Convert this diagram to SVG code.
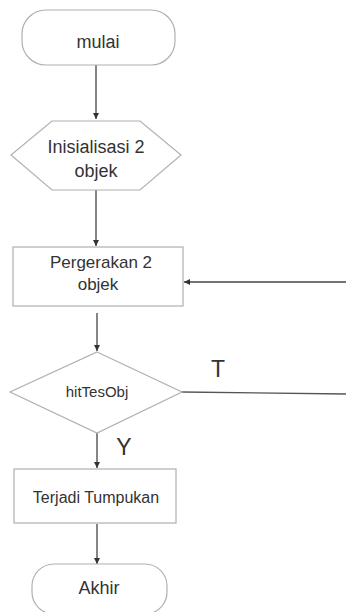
<svg xmlns="http://www.w3.org/2000/svg" width="346" height="612" viewBox="0 0 346 612">
<style>
.shape{fill:#fff;stroke:#b0b0b0;stroke-width:1.2}
.lbl{font-family:"Liberation Sans",Arial,sans-serif;fill:#333;text-anchor:middle}
.edge{stroke:#444;stroke-width:1.3;fill:none;marker-end:url(#ah)}
</style>
<defs>
<marker id="ah" viewBox="0 0 10 10" refX="10" refY="5" markerWidth="6" markerHeight="6" markerUnits="userSpaceOnUse" orient="auto">
<path d="M0,0 L10,5 L0,10 z" fill="#333"/>
</marker>
</defs>
<rect width="346" height="612" fill="#fff"/>
<g id="connectors">
<line class="edge" x1="96" y1="65" x2="96" y2="119"/>
<line class="edge" x1="96" y1="190" x2="96" y2="246"/>
<line class="edge" x1="346" y1="282" x2="184" y2="282"/>
<line class="edge" x1="97" y1="313" x2="97" y2="351"/>
<line x1="182" y1="392" x2="346" y2="394" stroke="#555" stroke-width="1.3"/>
<line class="edge" x1="97" y1="433" x2="97" y2="468"/>
<line class="edge" x1="97" y1="524" x2="97" y2="564"/>
<text class="lbl" x="218" y="377" font-size="23">T</text>
<text class="lbl" x="124" y="455" font-size="23">Y</text>
</g>
<g id="mulai">
<rect class="shape" x="22" y="10" width="153" height="55" rx="24"/>
<text class="lbl" x="98" y="48" font-size="18">mulai</text>
</g>
<g id="inisialisasi">
<polygon class="shape" points="52,121 140,121 181,155 140,190 52,190 11,155"/>
<text class="lbl" x="96" y="153" font-size="18">Inisialisasi 2</text>
<text class="lbl" x="96" y="177" font-size="18">objek</text>
</g>
<g id="pergerakan">
<rect class="shape" x="13" y="247" width="170" height="59"/>
<text class="lbl" x="101" y="268" font-size="17">Pergerakan 2</text>
<text class="lbl" x="98" y="290" font-size="17">objek</text>
</g>
<g id="hitTesObj">
<polygon class="shape" points="97,352 182,392 97,433 10,392"/>
<text class="lbl" x="97" y="397" font-size="15">hitTesObj</text>
</g>
<g id="tumpukan">
<rect class="shape" x="14" y="469" width="162" height="54"/>
<text class="lbl" x="96" y="503" font-size="16">Terjadi Tumpukan</text>
</g>
<g id="akhir">
<rect class="shape" x="32" y="564" width="135" height="50" rx="22"/>
<text class="lbl" x="99" y="594" font-size="18">Akhir</text>
</g>
</svg>
